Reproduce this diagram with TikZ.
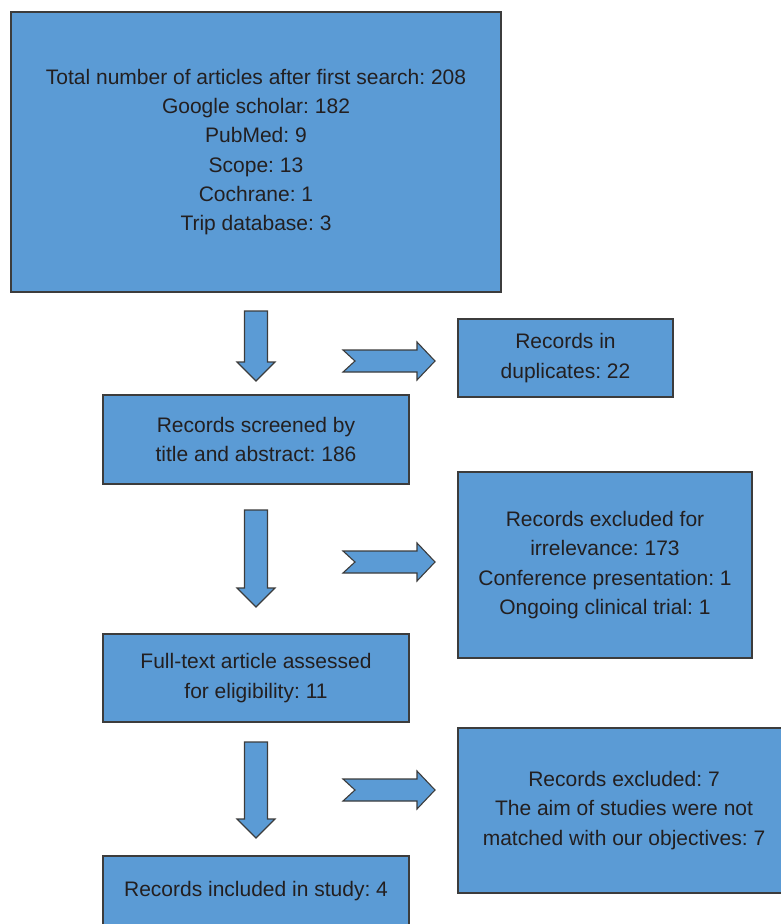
\documentclass[tikz,border=0pt]{standalone}
\usepackage{fontspec}
\setmainfont{Liberation Sans}
\usepackage{tikz}
\definecolor{boxblue}{HTML}{5B9BD5}
\definecolor{boxline}{HTML}{3C3C3C}
\definecolor{boxtext}{HTML}{231F20}
\tikzset{
  flowbox/.style={draw=boxline, line width=1.1pt, fill=boxblue, text=boxtext,
    align=center, inner sep=0pt, font=\fontsize{21}{29.3}\selectfont\frenchspacing},
  blockarrow/.style={draw=boxline, line width=1.1pt, fill=boxblue, line join=miter}
}
% down arrow: x, top, tip
\newcommand{\DownArrow}[3]{%
  \draw[blockarrow] (#1-11.5,#2) -- (#1+11.5,#2) -- (#1+11.5,#3-19) -- (#1+19,#3-19)
    -- (#1,#3) -- (#1-19,#3-19) -- (#1-11.5,#3-19) -- cycle;}
% notched right arrow: centre y
\newcommand{\RightArrow}[1]{%
  \draw[blockarrow] (343,#1-11) -- (417,#1-11) -- (417,#1-19) -- (435,#1) -- (417,#1+19)
    -- (417,#1+11) -- (343,#1+11) -- (355,#1) -- cycle;}

\begin{document}
\begin{tikzpicture}[x=1pt, y=-1pt]
  \useasboundingbox (0,0) rectangle (781,924);

  \node[flowbox, minimum width=490pt, minimum height=280pt] (search) at (256,152)
    {Total number of articles after first search: 208\\Google scholar: 182\\PubMed: 9\\Scope: 13\\Cochrane: 1\\Trip database: 3};
  \node[flowbox, minimum width=306pt, minimum height=89pt] (screened) at (256,439.5)
    {Records screened by\\title and abstract: 186};
  \node[flowbox, minimum width=306pt, minimum height=88pt] (fulltext) at (256,678)
    {Full-text article assessed\\for eligibility: 11};
  \node[flowbox, minimum width=306pt, minimum height=70pt] (included) at (256,891)
    {Records included in study: 4};

  \node[flowbox, minimum width=215pt, minimum height=78pt] (duplicates) at (565.5,358)
    {Records in\\duplicates: 22};
  \node[flowbox, minimum width=294pt, minimum height=186pt] (irrelevant) at (605,565)
    {Records excluded for\\irrelevance: 173\\Conference presentation: 1\\Ongoing clinical trial: 1};
  \node[flowbox, minimum width=332pt, minimum height=165pt] (notmatched) at (624,810.5)
    {Records excluded: 7\\The aim of studies were not\\matched with our objectives: 7};

  \DownArrow{256}{311}{381}
  \DownArrow{256}{510}{607}
  \DownArrow{256}{742}{838}

  \RightArrow{361}
  \RightArrow{562}
  \RightArrow{790}
\end{tikzpicture}
\end{document}
